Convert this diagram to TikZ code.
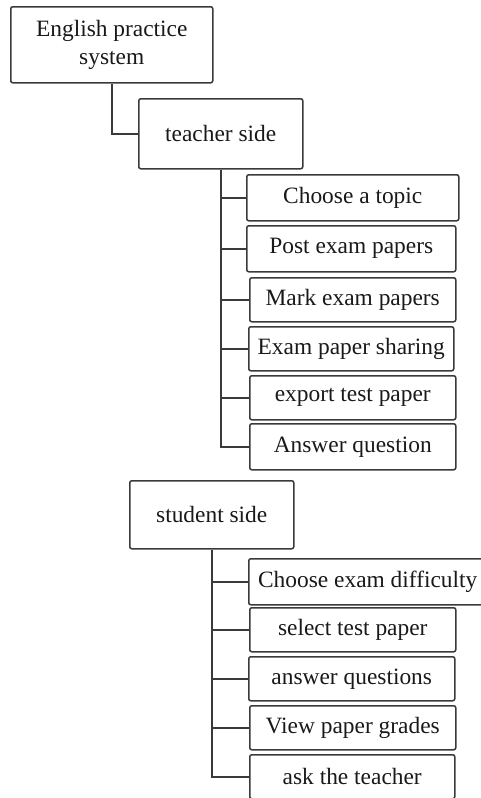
\documentclass[tikz,border=0pt]{standalone}
\usepackage{fontspec}
\setmainfont{Liberation Serif}
\definecolor{linha}{HTML}{3A3A3A}
\begin{document}
\begin{tikzpicture}[x=1pt, y=-1pt,
    caixa/.style={draw=linha, line width=1.5pt, rounded corners=2pt, anchor=north west,
      inner sep=0pt, align=center, text=black!90, font=\fontsize{23.4}{28}\selectfont},
    ligacao/.style={draw=linha, line width=1.5pt}]
  \clip (0,0) rectangle (481,798);

  \node[caixa, minimum width=202pt, minimum height=76pt] (sistema) at (10,6) {English practice\\system};
  \node[caixa, minimum width=164pt, minimum height=70pt] (professor) at (138,98) {teacher side};

  %lado do professor
  \node[caixa, minimum width=212pt, minimum height=46pt] (tema) at (246,174) {Choose a topic};
  \node[caixa, minimum width=209pt, minimum height=46pt] (publicar) at (246,225) {Post exam papers};
  \node[caixa, minimum width=206pt, minimum height=44pt] (corrigir) at (249,277) {Mark exam papers};
  \node[caixa, minimum width=205pt, minimum height=44pt] (partilhar) at (248,326) {Exam paper sharing};
  \node[caixa, minimum width=206pt, minimum height=44pt] (exportar) at (249,375) {export test paper};
  \node[caixa, minimum width=206pt, minimum height=46pt] (responder) at (249,423) {Answer question};

  %lado do aluno
  \node[caixa, minimum width=164pt, minimum height=68pt] (aluno) at (129,480) {student side};
  \node[caixa, minimum width=238pt, minimum height=46pt] (dificuldade) at (248,558) {Choose exam difficulty};
  \node[caixa, minimum width=206pt, minimum height=44pt] (selecionar) at (249,607) {select test paper};
  \node[caixa, minimum width=206pt, minimum height=44pt] (questoes) at (248,656) {answer questions};
  \node[caixa, minimum width=206pt, minimum height=44pt] (notas) at (249,705) {View paper grades};
  \node[caixa, minimum width=205pt, minimum height=44pt] (perguntar) at (249,754) {ask the teacher};

  %ligacoes
  \draw[ligacao] (sistema.south) |- (professor.west);
  \foreach \filho in {tema, publicar, corrigir, partilhar, exportar, responder}
    \draw[ligacao] (professor.south) |- (\filho.west);
  \foreach \filho in {dificuldade, selecionar, questoes, notas, perguntar}
    \draw[ligacao] (aluno.south) |- (\filho.west);
\end{tikzpicture}
\end{document}
